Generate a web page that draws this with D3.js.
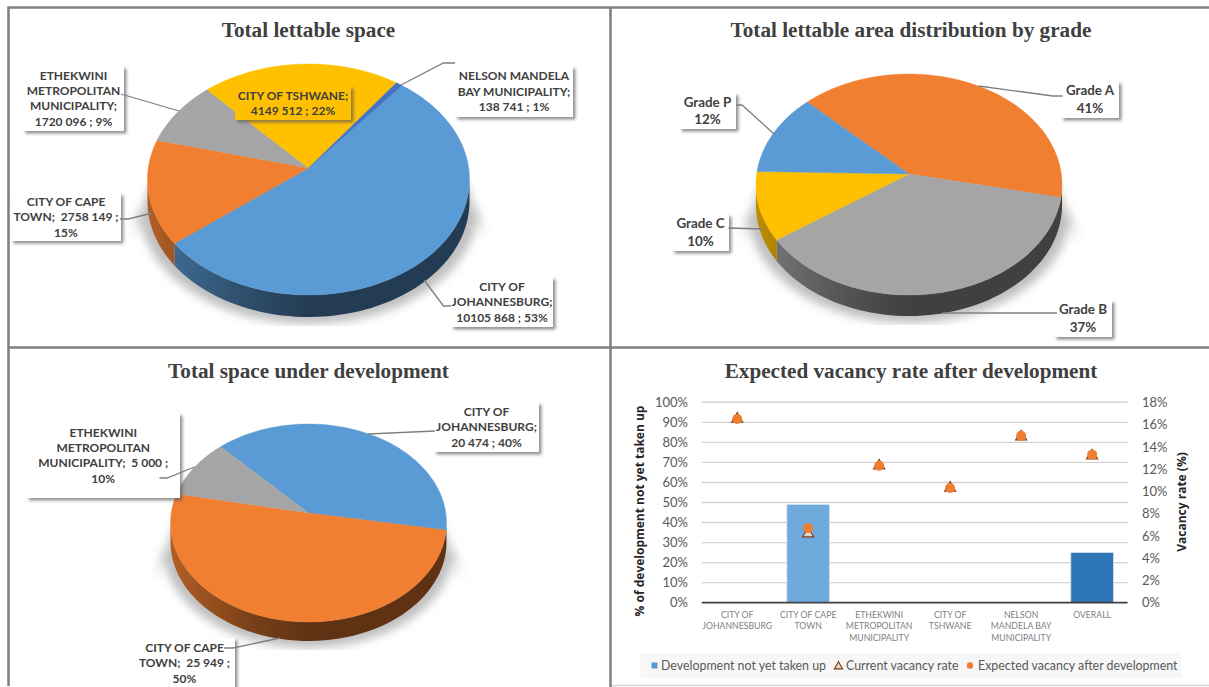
<!DOCTYPE html>
<html>
<head>
<meta charset="utf-8">
<script src="https://cdn.jsdelivr.net/npm/d3@7"></script>
<style>
  html, body { margin: 0; padding: 0; background: #fff; }
  svg { display: block; }
  text { font-family: Lato, "Open Sans", sans-serif; }
  .title { font-family: "Liberation Serif", serif; font-weight: 700; font-size: 21.2px; fill: #404040; text-anchor: middle; }
  .callout { font-weight: 700; font-size: 12px; fill: #404040; text-anchor: middle; white-space: pre; }
  .tick-label { font-size: 13px; fill: #595959; }
  .cat-label { font-size: 8.7px; fill: #7f7f7f; text-anchor: middle; }
  .axis-title { font-family: "Open Sans", sans-serif; font-weight: 700; font-size: 12px; fill: #262626; text-anchor: middle; }
  .legend-label { font-size: 12.4px; fill: #595959; }
</style>
</head>
<body>
<svg id="chart" width="1209" height="687"></svg>
<script>
// Total lettable space, by metro (m2)
const lettableCities = ["City of Johannesburg", "City of Cape Town", "eThekwini", "City of Tshwane", "Nelson Mandela Bay"];
const lettableValues = [10105868, 2758149, 1720096, 4149512, 138741];
const lettableColors = ["#5b9bd5", "#f07f31", "#a5a5a5", "#ffc000", "#4472c4"];
const lettableLabels = [
  ["CITY OF", "JOHANNESBURG;", "10105 868 ; 53%"],
  ["CITY OF CAPE", "TOWN;  2758 149 ;", "15%"],
  ["ETHEKWINI", "METROPOLITAN", "MUNICIPALITY;", "1720 096 ; 9%"],
  ["CITY OF TSHWANE;", "4149 512 ; 22%"],
  ["NELSON MANDELA", "BAY MUNICIPALITY;", "138 741 ; 1%"]
];

// Lettable area split by building grade (%)
const gradeNames = ["Grade A", "Grade B", "Grade C", "Grade P"];
const gradeValues = [41, 37, 10, 12];
const gradeColors = ["#f07f31", "#a5a5a5", "#ffc000", "#5b9bd5"];
const gradeLabels = [["Grade A", "41%"], ["Grade B", "37%"], ["Grade C", "10%"], ["Grade P", "12%"]];

// Space under development (m2)
const devCities = ["City of Johannesburg", "City of Cape Town", "eThekwini"];
const devValues = [20474, 25949, 5000];
const devColors = ["#5b9bd5", "#f07f31", "#a5a5a5"];
const devLabels = [
  ["CITY OF", "JOHANNESBURG;", "20 474 ; 40%"],
  ["CITY OF CAPE", "TOWN;  25 949 ;", "50%"],
  ["ETHEKWINI", "METROPOLITAN", "MUNICIPALITY;  5 000 ;", "10%"]
];

// Vacancy chart series
const vacancyCategories = ["CITY OF\nJOHANNESBURG", "CITY OF CAPE\nTOWN", "ETHEKWINI\nMETROPOLITAN\nMUNICIPALITY", "CITY OF\nTSHWANE", "NELSON\nMANDELA BAY\nMUNICIPALITY", "OVERALL"];
const notTakenUp = [0, 49, 0, 0, 0, 25];
const currentVacancy = [16.5, 6.2, 12.3, 10.3, 14.9, 13.2];
const expectedVacancy = [16.5, 6.7, 12.3, 10.3, 15.0, 13.3];
const leftTicks = [0, 10, 20, 30, 40, 50, 60, 70, 80, 90, 100];
const rightTicks = [0, 2, 4, 6, 8, 10, 12, 14, 16, 18];
const legendNames = ["Development not yet taken up", "Current vacancy rate", "Expected vacancy after development"];

const svg = d3.select("#chart");
const defs = svg.append("defs");

const softShadow = defs.append("filter").attr("id", "pieShadow")
  .attr("x", "-20%").attr("y", "-20%").attr("width", "140%").attr("height", "140%");
softShadow.append("feGaussianBlur").attr("stdDeviation", 5);

const boxShadow = defs.append("filter").attr("id", "boxShadow")
  .attr("x", "-10%").attr("y", "-10%").attr("width", "125%").attr("height", "125%");
boxShadow.append("feDropShadow").attr("dx", 2.5).attr("dy", 2.5)
  .attr("stdDeviation", 1.4).attr("flood-color", "#555").attr("flood-opacity", 0.65);

// Panel frame
const frame = svg.append("g").attr("fill", "none").attr("stroke", "#7f7f7f").attr("stroke-width", 2.5);
frame.append("path").attr("d", "M8.5,686V7.5H1209");
frame.append("path").attr("d", "M8,347.5H1209");
frame.append("path").attr("d", "M610.5,7V687");
svg.append("line").attr("x1", 612).attr("x2", 1209).attr("y1", 685.5).attr("y2", 685.5)
  .attr("stroke", "#d6d6d6").attr("stroke-width", 1.5);

svg.append("g").selectAll("text")
  .data([
    { t: "Total lettable space", x: 308.5, y: 36.5 },
    { t: "Total lettable area distribution by grade", x: 911, y: 36.5 },
    { t: "Total space under development", x: 308.5, y: 377.5 },
    { t: "Expected vacancy rate after development", x: 911, y: 377.5 }
  ])
  .join("text").attr("class", "title")
  .attr("x", d => d.x).attr("y", d => d.y).text(d => d.t);

const tau = Math.PI * 2;
const shade = (color, f) => {
  const c = d3.rgb(color);
  return d3.rgb(c.r * f, c.g * f, c.b * f).formatHex();
};

let gradientId = 0;

// Tilted pie: angles come from d3.pie, and the unit circle goes through a
// small perspective map so the near edge sits further from the hub than the far edge.
function drawPie(values, colors, labels, cfg) {
  const g = svg.append("g");
  const { cx, cy, up, down, rx, depth } = cfg;
  const k = (down - up) / (down + up);
  const a = down * (1 - k);
  const b = rx * Math.sqrt(1 - k * k);
  const project = t => {
    const x = Math.sin(t), y = -Math.cos(t), w = 1 - k * y;
    return [cx + b * x / w, cy + a * y / w];
  };
  const line = d3.line();
  const samples = (t0, t1) => d3.range(0, 61).map(i => t0 + (t1 - t0) * i / 60);

  const arcs = d3.pie().sort(null)
    .startAngle(cfg.start * tau / 360)
    .endAngle(cfg.start * tau / 360 + tau)(values);

  // Soft contact shadow below the disc, cut off just under the wall
  const clipId = `pieClip${gradientId++}`;
  const ellipseCy = cy + (down - up) / 2;
  defs.append("clipPath").attr("id", clipId).append("rect")
    .attr("x", cx - rx - 40).attr("y", cy - 20)
    .attr("width", 2 * rx + 80).attr("height", down + 20 + depth + 9);
  g.append("g").attr("clip-path", `url(#${clipId})`)
    .append("path")
    .attr("d", line([
      [cx - rx + 3, ellipseCy + 4], [cx + rx - 3, ellipseCy + 4],
      [cx + rx + 15, ellipseCy + 62],
      ...samples(Math.PI / 2, Math.PI * 1.5).map(t => {
        const [x, y] = project(t);
        return [cx + (x - cx) * 1.05, y + depth + 7];
      }),
      [cx - rx - 15, ellipseCy + 62]
    ]) + "Z")
    .attr("fill", "#b4b4b4").attr("opacity", 0.85)
    .attr("filter", "url(#pieShadow)");

  // Side wall: only the part of each slice that faces the viewer
  const frontStart = Math.acos(-k) , frontEnd = tau - frontStart;
  arcs.forEach(d => {
    for (const turn of [0, tau]) {
      const t0 = Math.max(d.startAngle, frontStart + turn);
      const t1 = Math.min(d.endAngle, frontEnd + turn);
      if (t1 <= t0) continue;
      const edge = samples(t0, t1).map(project);
      const wall = edge.concat(edge.slice().reverse().map(([x, y]) => [x, y + depth]));
      const id = `wall${gradientId++}`;
      const grad = defs.append("linearGradient").attr("id", id)
        .attr("gradientUnits", "userSpaceOnUse")
        .attr("x1", cx - rx).attr("x2", cx).attr("y1", 0).attr("y2", 0);
      grad.append("stop").attr("offset", 0).attr("stop-color", shade(colors[d.index], 0.74));
      grad.append("stop").attr("offset", 0.6).attr("stop-color", shade(colors[d.index], 0.5));
      grad.append("stop").attr("offset", 1).attr("stop-color", shade(colors[d.index], 0.39));
      g.append("path").attr("d", line(wall) + "Z").attr("fill", `url(#${id})`);
    }
  });

  // Top face
  g.selectAll(".slice").data(arcs).join("path").attr("class", "slice")
    .attr("d", d => line([[cx, cy], ...samples(d.startAngle, d.endAngle).map(project)]) + "Z")
    .attr("fill", d => colors[d.index])
    .attr("stroke", d => colors[d.index]).attr("stroke-width", 0.4);

  // Callouts
  cfg.callouts.forEach(c => {
    const [x, y, w, h] = c.box;
    g.append("rect").attr("x", x).attr("y", y).attr("width", w).attr("height", h)
      .attr("fill", c.fill || "#fff").attr("filter", "url(#boxShadow)");
  });
  cfg.callouts.filter(c => c.leader).forEach(c => {
    g.append("path").attr("d", line(c.leader)).attr("fill", "none")
      .attr("stroke", "#7f7f7f").attr("stroke-width", 1.3);
  });
  cfg.callouts.forEach((c, i) => {
    const [x, y, w, h] = c.box;
    const rows = labels[i];
    g.append("text").attr("class", "callout").style("font-size", cfg.fontSize + "px")
      .selectAll("tspan").data(rows).join("tspan")
      .attr("x", x + w / 2)
      .attr("y", (_, r) => y + h / 2 + (r - (rows.length - 1) / 2) * cfg.lineHeight)
      .attr("dy", "0.35em")
      .text(d => d);
  });
}

drawPie(lettableValues, lettableColors, lettableLabels, {
  cx: 308.5, cy: 168, up: 104, down: 127, rx: 161, depth: 22, start: 39, lineHeight: 15.4, fontSize: 12,
  callouts: [
    { box: [451, 277, 102, 50], leader: [[451, 306], [443.5, 306], [424, 280]] },
    { box: [11, 193, 110, 48], leader: [[120, 219], [128, 219], [152.5, 213]] },
    { box: [23, 66, 101, 65], leader: [[121, 94], [179, 111]] },
    { box: [235, 86, 116, 34], fill: "#ffc000" },
    { box: [455, 66, 118, 51], leader: [[455, 63], [443.5, 63], [401, 85]] }
  ]
});

drawPie(gradeValues, gradeColors, gradeLabels, {
  cx: 909, cy: 174, up: 100, down: 121, rx: 153, depth: 21, start: 314.5, lineHeight: 17.6, fontSize: 13.4,
  callouts: [
    { box: [1061, 81, 58, 37], leader: [[1062.6, 96], [1053, 96], [978.6, 86]] },
    { box: [1054, 300, 58, 37], leader: [[1057, 313], [942, 313]] },
    { box: [672, 214, 57, 37], leader: [[728.4, 228], [764.7, 229]] },
    { box: [679, 93, 57, 36], leader: [[736, 105], [742, 105], [774, 134]] }
  ]
});

drawPie(devValues, devColors, devLabels, {
  cx: 308.5, cy: 513, up: 89, down: 109, rx: 138, depth: 19, start: 316.6, lineHeight: 15.4, fontSize: 12,
  callouts: [
    { box: [434, 402, 105, 50], leader: [[435, 431], [368, 434]] },
    { box: [134, 638, 101, 50], leader: [[224, 648], [233, 648], [280, 638]] },
    { box: [26.5, 413, 153.5, 85], leader: [[159.5, 478], [167, 478], [194.5, 467]] }
  ]
});

// Vacancy chart
const plot = { left: 701.7, right: 1127.6, top: 402.3, bottom: 602.7 };
const x = d3.scaleBand().domain(vacancyCategories).range([plot.left, plot.right]).paddingInner(0.4).paddingOuter(0.2);
const yLeft = d3.scaleLinear().domain([0, 100]).range([plot.bottom, plot.top]);
const yRight = d3.scaleLinear().domain([0, 18]).range([plot.bottom, plot.top]);
const vac = svg.append("g");

vac.append("g").selectAll("line").data(leftTicks.slice(1)).join("line")
  .attr("x1", plot.left).attr("x2", plot.right)
  .attr("y1", d => yLeft(d)).attr("y2", d => yLeft(d))
  .attr("stroke", "#d4d4d4").attr("stroke-width", 1.4);

vac.append("g").selectAll("rect").data(notTakenUp).join("rect")
  .attr("x", (_, i) => x(vacancyCategories[i]))
  .attr("y", d => yLeft(d))
  .attr("width", x.bandwidth())
  .attr("height", d => plot.bottom - yLeft(d))
  .attr("fill", (_, i) => i === 5 ? "#2e75b6" : "#70a9dc")
  .attr("stroke", "#cfe2f3").attr("stroke-width", d => d ? 0.8 : 0);

vac.append("line").attr("x1", plot.left).attr("x2", plot.right)
  .attr("y1", plot.bottom).attr("y2", plot.bottom)
  .attr("stroke", "#404040").attr("stroke-width", 1.8);

const leftAxis = vac.append("g").attr("transform", "translate(694,0)")
  .call(d3.axisLeft(yLeft).tickValues(leftTicks).tickSize(0).tickPadding(6).tickFormat(d => d + "%"));
const rightAxis = vac.append("g").attr("transform", "translate(1136,0)")
  .call(d3.axisRight(yRight).tickValues(rightTicks).tickSize(0).tickPadding(6).tickFormat(d => d + "%"));
[leftAxis, rightAxis].forEach(ax => {
  ax.select(".domain").remove();
  ax.selectAll("text").attr("class", "tick-label");
  ax.attr("font-family", null).attr("font-size", null);
});

const bottomAxis = vac.append("g").attr("transform", `translate(0,${plot.bottom})`)
  .call(d3.axisBottom(x).tickSize(0));
bottomAxis.select(".domain").remove();
bottomAxis.attr("font-family", null).attr("font-size", null);
bottomAxis.selectAll("text").each(function (d) {
  const rows = d.split("\n");
  d3.select(this).text(null).attr("class", "cat-label").attr("y", null).attr("dy", null)
    .selectAll("tspan").data(rows).join("tspan")
    .attr("x", 0).attr("y", (_, i) => 15.5 + i * 11.2)
    .text(r => r);
});

const triangle = d3.symbol().type(d3.symbolTriangle);
vac.append("g").selectAll("path").data(currentVacancy).join("path")
  .attr("d", triangle.size(54)())
  .attr("transform", (d, i) => `translate(${x(vacancyCategories[i]) + x.bandwidth() / 2},${yRight(d)})`)
  .attr("fill", "#dcd6d0").attr("stroke", "#843c0c").attr("stroke-width", 1.1);

vac.append("g").selectAll("circle").data(expectedVacancy).join("circle")
  .attr("cx", (_, i) => x(vacancyCategories[i]) + x.bandwidth() / 2)
  .attr("cy", d => yRight(d))
  .attr("r", 5).attr("fill", "#ed7d31");

vac.append("text").attr("class", "axis-title")
  .attr("transform", "translate(640,511) rotate(-90)").attr("dy", "0.35em")
  .text("% of development not yet taken up");
vac.append("text").attr("class", "axis-title")
  .attr("transform", "translate(1182,502) rotate(-90)").attr("dy", "0.35em")
  .text("Vacancy rate (%)");

// Legend strip
const legend = vac.append("g");
legend.append("rect").attr("x", 640.5).attr("y", 653).attr("width", 540.5).attr("height", 25).attr("fill", "#f7f7f7");
legend.append("rect").attr("x", 651.5).attr("y", 662.5).attr("width", 6).attr("height", 6).attr("fill", "#5b9bd5");
legend.append("path").attr("d", triangle.size(30)()).attr("transform", "translate(838.5,666.5)")
  .attr("fill", "#e8d9cc").attr("stroke", "#843c0c").attr("stroke-width", 1.1);
legend.append("circle").attr("cx", 970).attr("cy", 665.5).attr("r", 3.2).attr("fill", "#ed7d31");
legend.selectAll("text").data(legendNames).join("text").attr("class", "legend-label")
  .attr("x", (_, i) => [661, 846, 978][i]).attr("y", 670).text(d => d);
</script>
</body>
</html>
